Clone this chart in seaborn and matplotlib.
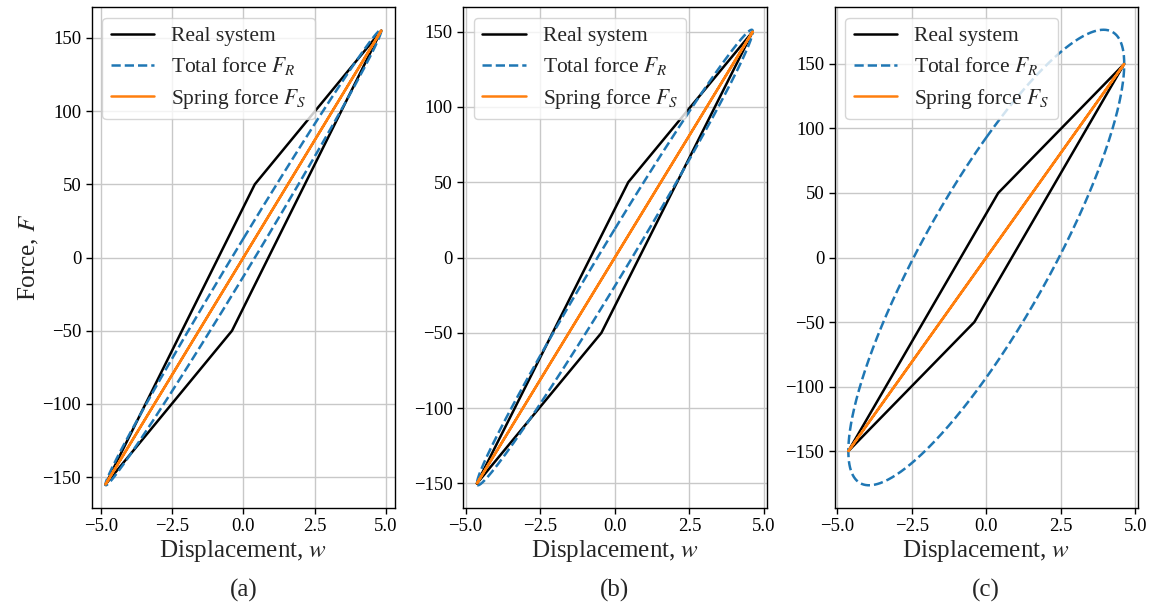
import numpy as np
import pandas as pd
import matplotlib
matplotlib.use("Agg")
import matplotlib.pyplot as plt
from matplotlib.ticker import MultipleLocator
import seaborn as sns

# ---- data ----
panel_labels = ["(a)", "(b)", "(c)"]
amplitude = [4.84, 4.62, 4.63]        # displacement amplitude A
peak_force = [155.0, 150.0, 150.0]    # force at +A
damping_force = [13.0, 19.0, 93.0]    # damping force amplitude (ellipse half-width at w=0)
kink_w = [0.40, 0.45, 0.40]           # kink displacement of real-system loop
kink_F = [50.0, 50.0, 50.0]           # kink force of real-system loop

sns.set_style("ticks", {"axes.grid": True})
plt.rcParams["font.family"] = ["Liberation Serif", "DejaVu Serif"]
plt.rcParams["mathtext.fontset"] = "stix"
plt.rcParams["grid.color"] = "#c8c8c8"
plt.rcParams["grid.linewidth"] = 1.0
plt.rcParams["axes.edgecolor"] = "black"
plt.rcParams["xtick.color"] = "black"
plt.rcParams["ytick.color"] = "black"

fig, axes = plt.subplots(1, 3, figsize=(11.53, 6.07), dpi=100)
fig.subplots_adjust(left=0.0795, right=0.987, top=0.9885, bottom=0.163, wspace=0.224)

phase = np.linspace(0, 2 * np.pi, 600)

for i, ax in enumerate(axes):
    A = amplitude[i]
    Fm = peak_force[i]
    D = damping_force[i]
    k = Fm / A

    real = pd.DataFrame({
        "w": [-A, kink_w[i], A, -kink_w[i], -A],
        "F": [-Fm, kink_F[i], Fm, -kink_F[i], -Fm],
    })
    w = A * np.sin(phase)
    total = pd.DataFrame({"w": w, "F": k * w + D * np.cos(phase)})
    spring = pd.DataFrame({"w": w, "F": k * w})

    sns.lineplot(data=real, x="w", y="F", sort=False, estimator=None, ax=ax,
                 color="black", lw=1.8, label="Real system")
    sns.lineplot(data=total, x="w", y="F", sort=False, estimator=None, ax=ax,
                 color="#1f77b4", lw=1.8, ls="--", label=r"Total force $F_R$")
    sns.lineplot(data=spring, x="w", y="F", sort=False, estimator=None, ax=ax,
                 color="#ff7f0e", lw=1.8, label=r"Spring force $F_S$")

    ax.xaxis.set_major_locator(MultipleLocator(2.5))
    ax.yaxis.set_major_locator(MultipleLocator(50))
    ax.tick_params(labelsize=13.5, direction="out", length=4, width=1)
    for s in ax.spines.values():
        s.set_linewidth(1.0)
        s.set_visible(True)
    ax.set_xlabel(r"Displacement, $w$", fontsize=18, labelpad=2)
    if i == 0:
        ax.set_ylabel(r"Force, $F$", fontsize=18, labelpad=1)
    else:
        ax.set_ylabel("")
    ax.legend(loc="upper left", fontsize=15.5, framealpha=0.8, labelspacing=0.42)
    ax.text(0.5, -0.165, panel_labels[i], transform=ax.transAxes,
            ha="center", va="center", fontsize=18)

fig.savefig("out.png", dpi=100)
